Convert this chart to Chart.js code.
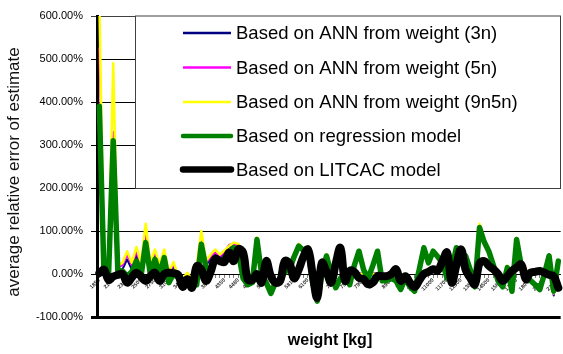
<!DOCTYPE html>
<html>
<head>
<meta charset="utf-8">
<script src="https://cdn.jsdelivr.net/npm/chart.js@4.4.1/dist/chart.umd.min.js"></script>
<style>
  html, body { margin: 0; padding: 0; background: #fff; }
  canvas { display: block; }
</style>
</head>
<body>
<canvas id="c" width="563" height="354"></canvas>
<script>
// ---- data ----
const categories = [
  1850,1900,1950,2100,2150,2200,2300,2350,2400,2500,
  2550,2650,2750,2800,2900,3100,3150,3250,3400,3450,
  3500,3600,3700,3750,3800,3900,4100,4350,4400,4450,
  4480,4550,4650,4800,4900,5000,5100,5250,5400,5600,
  5700,5750,5817,5900,6000,6100,6300,6500,6600,6800,
  7000,7100,7200,7400,7500,7600,7800,7900,8000,8200,
  8400,8500,8700,8900,9000,9300,9500,9800,10000,10250,
  10530,10700,11000,11200,11500,11700,11900,12100,12500,12800,
  13000,13500,14000,14200,14500,15000,15200,15600,16000,16500,
  17000,17300,17500,18000,18500,19000,20000,20500,21000,22000
];

const ann3n = [
  380,5,10,320,10,11,34,10,42,10,
  88,12,42,10,42,0,18,-8,-14,-3,
  -18,15,84,20,35,45,35,50,62,65,
  62,10,-14,-20,80,0,-20,-45,-20,-15,
  5,10,40,65,55,60,-20,-63,0,42,
  0,-32,-10,5,-25,2,2,0,-3,1,
  2,-2,-5,-5,-10,-30,-10,-25,-35,5,
  58,26,53,40,26,-10,10,60,48,42,
  10,-30,108,75,53,20,-16,-30,15,-40,
  80,20,-10,-13,-25,-36,0,46,-50,30
];

const ann5n = [
  525,8,12,330,15,20,44,20,52,20,
  100,20,50,17,50,2,22,-6,-12,0,
  -16,18,92,25,40,50,40,52,68,70,
  66,15,-12,-20,82,0,-20,-45,-20,-15,
  5,10,40,67,55,62,-20,-63,0,44,
  0,-32,-10,5,-25,3,1,0,-2,0,
  1,-2,-5,-5,-10,-30,-10,-25,-35,5,
  58,26,53,40,26,-10,10,62,48,42,
  10,-30,112,75,55,20,-16,-30,17,-40,
  82,20,-10,-12,-25,-36,0,44,-47,30
];

const ann9n5n = [
  640,10,15,490,20,26,53,26,63,26,
  117,26,57,22,57,5,28,-5,-10,3,
  -15,20,100,30,45,57,45,55,65,73,
  70,20,-10,-20,85,0,-20,-45,-20,-15,
  5,10,40,70,55,65,-20,-63,0,46,
  0,-32,-10,5,-25,5,0,0,0,0,
  0,-2,-5,-5,-10,-30,-10,-25,-35,5,
  58,26,53,40,26,-10,10,64,48,42,
  10,-30,117,75,57,20,-16,-30,19,-40,
  84,20,-10,-11,-25,-36,0,40,-45,30
];

const regression = [
  390,5,0,310,5,7,-5,5,30,-5,
  73,0,34,0,38,-20,0,-8,-24,-15,
  -20,-25,69,15,10,34,30,35,45,61,
  50,-10,-25,-20,80,0,-20,-45,-20,-15,
  5,10,40,65,55,60,-20,-63,0,42,
  0,-32,-10,5,-25,20,53,10,-10,20,
  53,-16,-15,-10,-16,-36,-10,-30,-40,10,
  61,26,53,40,26,-10,10,61,48,42,
  10,-30,108,75,53,20,-16,-30,15,-40,
  80,20,-10,-15,-25,-36,0,42,-40,30
];

const litcac = [
  2,10,-14,-6,-2,0,-20,-8,3,-6,
  -16,-5,3,-16,0,3,2,-2,-30,-12,
  -32,18,10,-16,5,35,30,28,50,30,
  58,50,-12,-14,0,-20,30,-5,-20,-16,
  30,25,-10,10,40,57,0,-55,26,5,
  -20,25,61,-16,7,5,-9,-12,-24,-20,
  -5,-5,-5,0,11,-16,-5,-20,-30,-15,
  0,5,11,8,30,50,-20,20,57,10,
  -9,-24,25,30,19,11,0,-16,-5,7,
  15,22,-12,3,5,7,3,-2,-5,-32
];

const yTicks = [-100, 0, 100, 200, 300, 400, 500, 600];
const seriesNames = [
  'Based on ANN from weight (3n)',
  'Based on ANN from weight (5n)',
  'Based on ANN from weight (9n5n)',
  'Based on regression model',
  'Based on LITCAC model'
];
const xTitle = 'weight [kg]';
const yTitle = 'average relative error of estimate';

// ---- styles ----
const FONT = "'Liberation Sans', Arial, Helvetica, sans-serif";
const colors = ['#000080', '#FF00FF', '#FFFF00', '#008000', '#000000'];
const widths = [2, 2, 2.5, 5.5, 8];
const legendWidths = [2.5, 2.5, 2.5, 4.5, 6.5];
const values = [ann3n, ann5n, ann9n5n, regression, litcac];

const datasets = values.map((v, i) => ({
  label: seriesNames[i],
  data: v,
  borderColor: colors[i],
  backgroundColor: colors[i],
  borderWidth: widths[i],
  pointRadius: 0,
  fill: false,
  tension: i === 4 ? 0.4 : 0,
  borderJoinStyle: 'round',
  borderCapStyle: 'round',
  order: 5 - i
}));

const overlay = {
  id: 'overlay',
  afterDatasetsDraw(chart) {
    const ctx = chart.ctx;
    ctx.save();
    // legend box
    const bx = 135.5, by = 16, bw = 425, bh = 172.5;
    ctx.fillStyle = '#fff';
    ctx.fillRect(bx, by, bw, bh);
    ctx.strokeStyle = '#404040';
    ctx.lineWidth = 1;
    ctx.strokeRect(bx, by, bw, bh);
    const rows = [33, 67.5, 102, 136, 169.5];
    ctx.font = '18.5px ' + FONT;
    ctx.textBaseline = 'middle';
    ctx.textAlign = 'left';
    for (let i = 0; i < 5; i++) {
      ctx.beginPath();
      ctx.strokeStyle = colors[i];
      ctx.lineWidth = legendWidths[i];
      ctx.lineCap = i >= 3 ? 'round' : 'butt';
      ctx.moveTo(183, rows[i]);
      ctx.lineTo(231, rows[i]);
      ctx.stroke();
      ctx.fillStyle = '#000';
      ctx.fillText(seriesNames[i], 236, rows[i] + 1);
    }
    ctx.restore();
  },
  afterDraw(chart) {
    const ctx = chart.ctx;
    ctx.save();
    ctx.fillStyle = '#000';
    ctx.textAlign = 'center';
    ctx.textBaseline = 'middle';
    ctx.font = 'bold 16px ' + FONT;
    ctx.fillText(xTitle, 330, 341);
    ctx.translate(14, 172);
    ctx.rotate(-Math.PI / 2);
    ctx.font = '17px ' + FONT;
    ctx.fillStyle = '#111';
    ctx.fillText(yTitle, 0, 0);
    ctx.restore();
  }
};

new Chart(document.getElementById('c'), {
  type: 'line',
  data: { labels: categories.map(String), datasets },
  options: {
    responsive: false,
    animation: false,
    devicePixelRatio: 1,
    layout: { padding: { top: 16, bottom: 37, left: 0, right: 0 } },
    plugins: { legend: { display: false }, tooltip: { enabled: false } },
    scales: {
      x: {
        position: { y: 0 },
        offset: true,
        grid: { display: true, drawOnChartArea: false, color: '#000', tickLength: 3, lineWidth: 0.5 },
        border: { color: '#000', width: 1 },
        ticks: {
          autoSkip: false,
          minRotation: 45,
          maxRotation: 45,
          padding: 0,
          color: '#333',
          font: { size: 5.5, family: FONT, weight: 'bold' },
          callback: function (v, i) { return i % 3 === 0 ? this.getLabelForValue(v) : ''; }
        }
      },
      y: {
        min: -100,
        max: 600,
        afterBuildTicks: (s) => { s.ticks = yTicks.map(v => ({ value: v })); },
        afterFit: (s) => { s.width = 97; },
        ticks: {
          padding: 8,
          color: '#000',
          font: { size: 11, family: FONT },
          callback: (v) => v.toFixed(2) + '%'
        },
        grid: {
          color: (c) => (c.tick && c.tick.value === 600) ? '#404040' : '#000',
          lineWidth: (c) => (c.tick && c.tick.value === -100) ? 3 : 1,
          tickLength: 6
        },
        border: { color: '#000', width: 3 }
      }
    }
  },
  plugins: [overlay]
});
</script>
</body>
</html>
